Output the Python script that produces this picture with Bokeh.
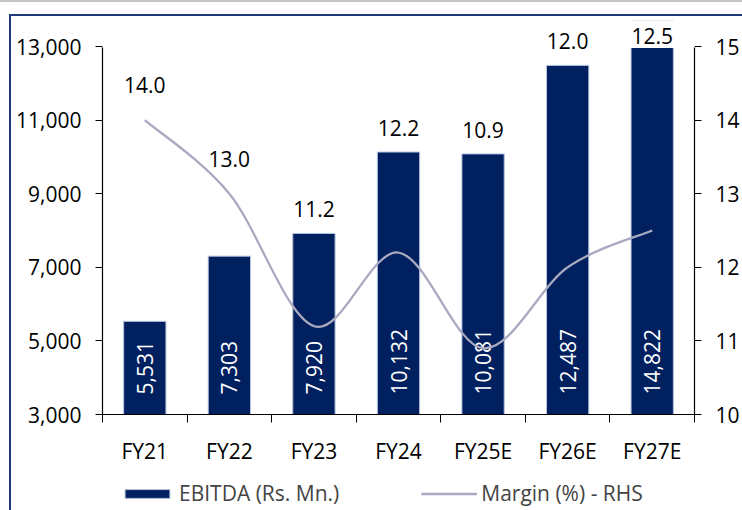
import numpy as np
from bokeh.plotting import figure
from bokeh.models import (ColumnDataSource, Range1d, LinearAxis, FixedTicker, LabelSet,
                          Legend, LegendItem, NumeralTickFormatter, InlineStyleSheet,
                          BoxAnnotation)
from bokeh.layouts import column
from bokeh.core.properties import value
from bokeh.embed import file_html
from bokeh.resources import INLINE

# ---- data ----
categories = ["FY21", "FY22", "FY23", "FY24", "FY25E", "FY26E", "FY27E"]
ebitda = [5531, 7303, 7920, 10132, 10081, 12487, 14822]
margin = [14.0, 13.0, 11.2, 12.2, 10.9, 12.0, 12.5]
left_ticks = [3000, 5000, 7000, 9000, 11000, 13000]
right_ticks = [10, 11, 12, 13, 14, 15]

NAVY = "#002060"
BAR_EDGE = "#B4C2DC"
LINE = "#A9A9C0"
FRAME = "#1F3B7A"
FONT = "Open Sans"
FS = "21px"

n = len(categories)
xc = np.arange(n) + 0.5

# layout: axis span in px and headroom above the top tick (for labels)
AXIS_PX = 368
HEAD_PX = 26
units_per_px = (left_ticks[-1] - left_ticks[0]) / AXIS_PX
scale = (left_ticks[-1] - left_ticks[0]) / (right_ticks[-1] - right_ticks[0])
y_end = left_ticks[-1] + HEAD_PX * units_per_px
r_end = right_ticks[-1] + (y_end - left_ticks[-1]) / scale

p = figure(width=731, height=462, output_backend="svg", toolbar_location=None,
           x_range=Range1d(0, n), y_range=Range1d(left_ticks[0], y_end),
           min_border_left=91, min_border_right=44, min_border_top=4, min_border_bottom=64)
p.extra_y_ranges = {"margin": Range1d(right_ticks[0], r_end)}
p.xgrid.visible = False
p.ygrid.visible = False
p.outline_line_color = None
p.background_fill_color = "white"
p.border_fill_color = "white"

# bars
bars = p.vbar(x=xc, top=ebitda, bottom=left_ticks[0], width=0.5,
              fill_color=NAVY, line_color=BAR_EDGE, line_width=1)

# bar value labels (vertical, inside base)
p.text(x=xc, y=[left_ticks[0]] * n, text=[f"{v:,}" for v in ebitda],
       angle=np.pi / 2, text_align="left", text_baseline="middle",
       x_offset=0, y_offset=-20, text_color="white",
       text_font=value(FONT), text_font_size=FS)

# smooth margin line (Excel-style bezier smoothing)
pts = np.column_stack([xc, np.array(margin, dtype=float)])
x0, y0, x1, y1, cx0, cy0, cx1, cy1 = ([] for _ in range(8))
for i in range(n - 1):
    prev = pts[max(i - 1, 0)]
    nxt2 = pts[min(i + 2, n - 1)]
    c0 = pts[i] + (pts[i + 1] - prev) / 6.0
    c1 = pts[i + 1] - (nxt2 - pts[i]) / 6.0
    x0.append(pts[i][0]); y0.append(pts[i][1])
    x1.append(pts[i + 1][0]); y1.append(pts[i + 1][1])
    cx0.append(c0[0]); cy0.append(c0[1])
    cx1.append(c1[0]); cy1.append(c1[1])
p.bezier(x0=x0, y0=y0, x1=x1, y1=y1, cx0=cx0, cy0=cy0, cx1=cx1, cy1=cy1,
         line_color=LINE, line_width=2.3, y_range_name="margin")

# mask: the value axis stops at its top tick, bars are cut there
p.add_layout(BoxAnnotation(bottom=left_ticks[-1], fill_color="white", fill_alpha=1,
                           line_color="white", line_alpha=1, line_width=3))

# margin labels, placed above line point or above visible bar
line_left = left_ticks[0] + (np.array(margin) - right_ticks[0]) * scale
ebitda_arr = np.array(ebitda, dtype=float)
bar_vis = np.minimum(ebitda_arr, left_ticks[-1])
anchor = np.maximum(line_left, bar_vis)
offs = np.where(line_left > bar_vis, 27, np.where(ebitda_arr > left_ticks[-1], 3, 16))
lsrc = ColumnDataSource(dict(x=xc, y=anchor, t=[f"{m:.1f}" for m in margin], off=offs))
p.add_layout(LabelSet(x="x", y="y", text="t", source=lsrc, y_offset="off",
                      text_align="center", text_baseline="alphabetic",
                      text_font=value(FONT), text_font_size=FS, text_color="black"))

# axes
def style_axis(ax):
    ax.axis_line_color = "black"
    ax.axis_line_width = 1.2
    ax.major_tick_line_color = "black"
    ax.minor_tick_line_color = None
    ax.major_tick_in = 0
    ax.major_tick_out = 7
    ax.major_label_text_font = FONT
    ax.major_label_text_font_size = FS
    ax.major_label_text_color = "black"

yl = p.yaxis[0]
yl.ticker = FixedTicker(ticks=left_ticks)
yl.formatter = NumeralTickFormatter(format="0,0")
yl.bounds = (left_ticks[0], left_ticks[-1])
style_axis(yl)
yl.major_label_standoff = 14

yr = LinearAxis(y_range_name="margin", ticker=FixedTicker(ticks=right_ticks),
                bounds=(right_ticks[0], right_ticks[-1]))
style_axis(yr)
yr.major_label_standoff = 14
p.add_layout(yr, "right")

xa = p.xaxis[0]
xa.ticker = FixedTicker(ticks=list(xc), minor_ticks=list(range(n + 1)))
xa.major_label_overrides = {float(x): c for x, c in zip(xc, categories)}
style_axis(xa)
xa.major_tick_out = 0
xa.minor_tick_line_color = "black"
xa.minor_tick_out = 8
xa.minor_tick_in = 0
xa.major_label_standoff = 14

# ---- legend strip (separate figure below the chart) ----
lg = figure(width=731, height=32, output_backend="svg", toolbar_location=None,
            x_axis_type=None, y_axis_type=None,
            min_border_left=0, min_border_right=0, min_border_top=0, min_border_bottom=0)
lg.xgrid.visible = False
lg.ygrid.visible = False
lg.outline_line_color = None
lg_bar = lg.vbar(x=xc, top=ebitda, width=0.5, fill_color=NAVY, line_color=BAR_EDGE,
                 line_width=1, visible=False)
lg_line = lg.line(x=xc, y=margin, line_color=LINE, line_width=2.3, visible=False)
legend = Legend(items=[LegendItem(label="EBITDA (Rs. Mn.)", renderers=[lg_bar]),
                       LegendItem(label="Margin (%) - RHS", renderers=[lg_line])],
                orientation="horizontal", location=(17, 3),
                glyph_width=56, glyph_height=11, label_standoff=4, spacing=82,
                border_line_color=None, background_fill_alpha=0, padding=0, margin=0,
                label_text_font=FONT, label_text_font_size=FS)
lg.add_layout(legend, "center")

layout = column(p, lg, spacing=0)
layout.styles = {"margin-left": "9px", "margin-top": "14px",
                 "border-left": f"2px solid {FRAME}", "border-top": f"2px solid {FRAME}"}
layout.stylesheets = [InlineStyleSheet(css=":host::before { content: ''; position: absolute; "
                                           "top: -16px; left: -11px; width: 742px; height: 0; "
                                           "border-top: 2px solid #C4C4C4; }")]

open("out.html", "w").write(file_html(layout, INLINE))
